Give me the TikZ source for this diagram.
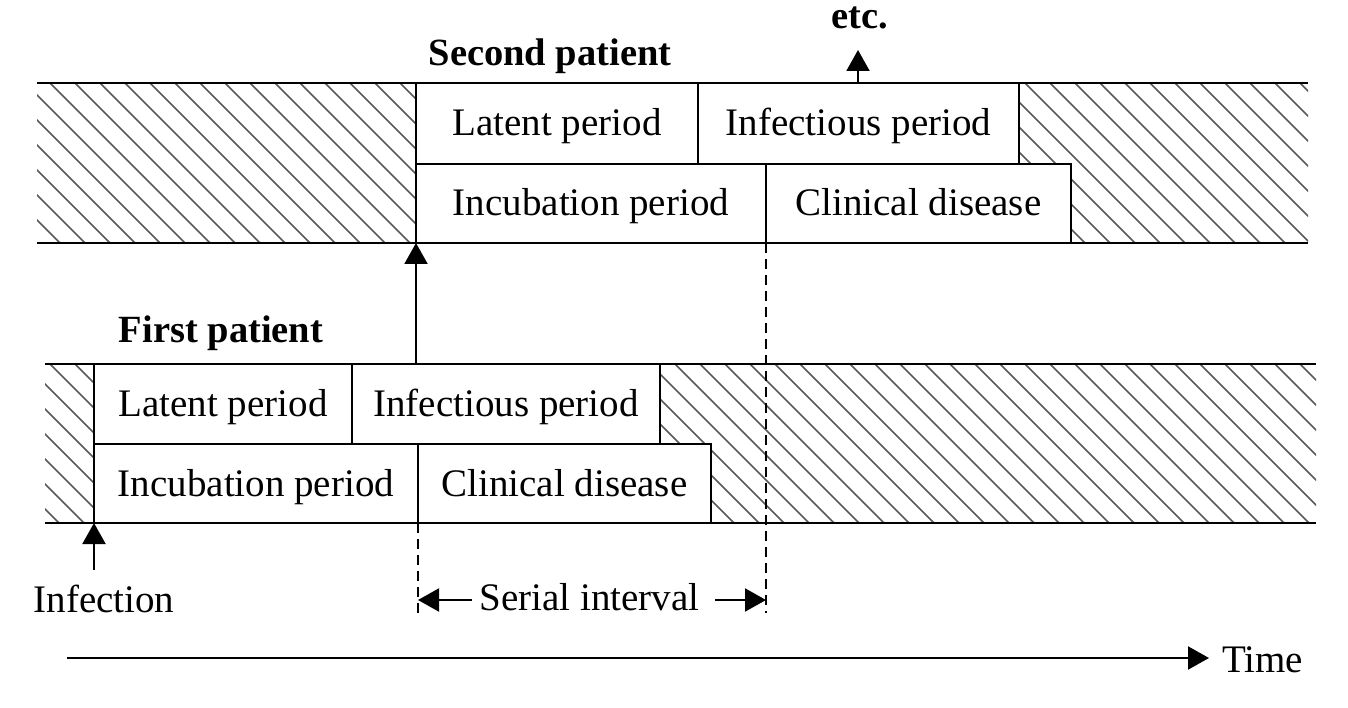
\documentclass[tikz,border=0pt]{standalone}
\usepackage{fontspec}
\setmainfont{Liberation Serif}
\usetikzlibrary{arrows.meta}
\begin{document}
\begin{tikzpicture}[x=1pt,y=-1pt,
  box/.style={draw,line width=1.8pt,fill=white,inner sep=0pt,outer sep=0pt,
    font=\fontsize{39}{44}\selectfont,text height=27pt,text depth=2pt},
  band/.style={line width=2pt},
  hatch/.style={line width=1.6pt,black!65},
  arr/.style={line width=2pt,-{Triangle[length=21pt,width=23pt]}},
  dashline/.style={line width=1.6pt,dash pattern=on 10pt off 6pt},
  lab/.style={font=\fontsize{39}{44}\selectfont,anchor=base,inner sep=0pt},
  blab/.style={font=\fontsize{38.5}{44}\selectfont\bfseries,anchor=base,inner sep=0pt}]
\useasboundingbox (0,0) rectangle (1348,708);
% hatching of the second patient band
\begin{scope}
  \clip (37,83) rectangle (1308,243);
  \foreach \i in {-200,-175,...,1325} \draw[hatch] (\i,83) -- ++(160,160);
\end{scope}
% hatching of the first patient band
\begin{scope}
  \clip (45,364) rectangle (1316,523);
  \foreach \i in {-200,-175,...,1325} \draw[hatch] (\i,364) -- ++(159,159);
\end{scope}
\draw[band] (37,83) -- (1308,83);
\draw[band] (37,243) -- (1308,243);
\draw[band] (45,364) -- (1316,364);
\draw[band] (45,523) -- (1316,523);
% second patient boxes
\node[box,minimum width=282pt,minimum height=81pt] (lat2) at (557,123.5) {Latent period};
\node[box,minimum width=321pt,minimum height=81pt] (inf2) at (858.5,123.5) {Infectious period};
\node[box,minimum width=350pt,minimum height=79pt] (inc2) at (591,203.5) {Incubation period};
\node[box,minimum width=305pt,minimum height=79pt] (cli2) at (918.5,203.5) {Clinical disease};
% first patient boxes
\node[box,minimum width=258pt,minimum height=80pt] (lat1) at (223,404) {Latent period};
\node[box,minimum width=308pt,minimum height=80pt] (inf1) at (506,404) {Infectious period};
\node[box,minimum width=324pt,minimum height=79pt] (inc1) at (256,483.5) {Incubation period};
\node[box,minimum width=293pt,minimum height=79pt] (cli1) at (564.5,483.5) {Clinical disease};
% titles
\node[blab] (sp) at (550,66) {Second patient};
\node[blab] (fp) at (221,342) {First patient};
\node[blab] (etc) at (860,29) {etc.};
% transmission arrow
\coordinate (tb) at (416,364);
\draw[arr] (tb) -- (inc2.south west);
% etc arrow
\coordinate (etcb) at (858,83);
\coordinate (etct) at (858,50);
\draw[arr] (etcb) -- (etct);
% infection
\node[lab] (infn) at (104,612) {Infection};
\coordinate (infb) at (94,570);
\draw[arr] (infb) -- (inc1.south west);
% dashed lines
\coordinate (d1) at (418,613);
\coordinate (d2) at (766,613);
\draw[dashline] (inc1.south east) -- (d1);
\draw[dashline] (inc2.south east) -- (d2);
% serial interval
\node[lab] (si) at (589.5,610) {Serial interval};
\coordinate (sl) at (418,600);
\coordinate (sr) at (766,600);
\coordinate (sla) at (472,600);
\coordinate (sra) at (715,600);
\draw[arr] (sla) -- (sl);
\draw[arr] (sra) -- (sr);
% time axis
\coordinate (t0) at (67,658);
\node[lab,anchor=base west] (time) at (1222,672) {Time};
\draw[arr] (t0) -- ([xshift=-13pt]t0 -| time.west);
\end{tikzpicture}
\end{document}
